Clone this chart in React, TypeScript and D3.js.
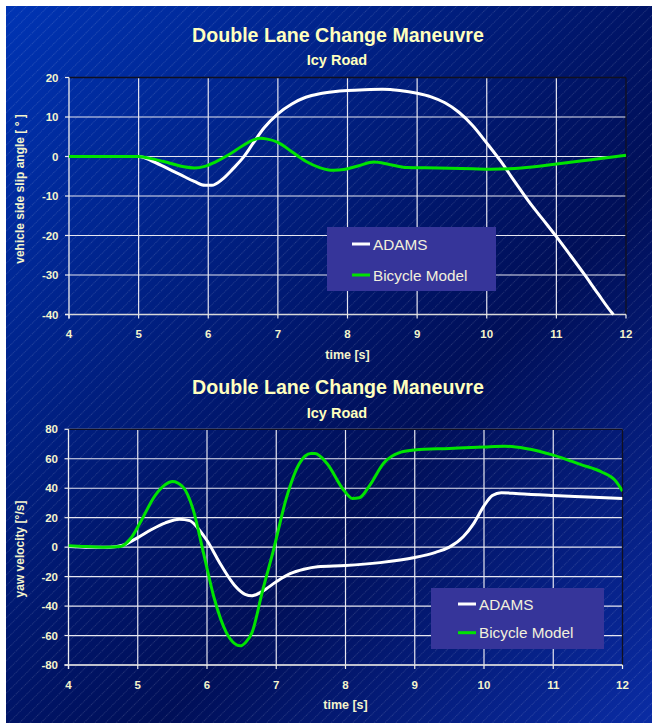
import React from "react";
import * as d3 from "d3";

const W = 652;
const H = 723;

// Shared time axis ticks (s)
const timeTicks = [4, 5, 6, 7, 8, 9, 10, 11, 12];
// Side slip angle ticks (deg)
const slipTicks = [20, 10, 0, -10, -20, -30, -40];
// Yaw velocity ticks (deg/s)
const yawTicks = [80, 60, 40, 20, 0, -20, -40, -60, -80];

const seriesNames = ["ADAMS", "Bicycle Model"];

// Side slip angle, ADAMS multibody model [t, deg]
const slipAdams: [number, number][] = [
  [4.0, 0], [4.5, 0], [5.0, 0], [5.2, -1.2], [5.4, -2.9], [5.6, -4.6],
  [5.8, -6.3], [5.95, -7.3], [6.05, -7.3], [6.2, -5.8], [6.35, -3.2],
  [6.5, -0.3], [6.65, 3.5], [6.8, 7.2], [7.0, 10.8], [7.2, 13.3],
  [7.4, 15.0], [7.6, 15.9], [7.8, 16.4], [8.0, 16.7], [8.25, 16.9],
  [8.5, 17.0], [8.75, 16.7], [9.0, 16.0], [9.2, 15.1], [9.4, 13.6],
  [9.6, 11.2], [9.8, 7.8], [10.0, 3.4], [10.2, -1.2], [10.4, -6.3],
  [10.6, -11.3], [10.8, -15.8], [11.0, -20.3], [11.2, -25.0],
  [11.4, -29.8], [11.6, -34.8], [11.8, -39.6], [11.82, -40],
];

// Side slip angle, bicycle model [t, deg]
const slipBicycle: [number, number][] = [
  [4.0, 0], [4.5, 0], [5.0, 0], [5.2, -0.6], [5.45, -1.7], [5.65, -2.6],
  [5.8, -2.9], [5.95, -2.5], [6.1, -1.4], [6.3, 0.5], [6.5, 2.8],
  [6.65, 4.2], [6.75, 4.6], [6.85, 4.4], [7.0, 3.6], [7.2, 1.2],
  [7.4, -1.2], [7.6, -2.8], [7.8, -3.5], [7.95, -3.3], [8.15, -2.4],
  [8.38, -1.4], [8.6, -2.0], [8.85, -2.8], [9.3, -2.9], [9.8, -3.1],
  [10.05, -3.2], [10.5, -2.9], [11.0, -1.9], [11.5, -0.8], [12.0, 0.3],
];

// Yaw velocity, ADAMS multibody model [t, deg/s]
const yawAdams: [number, number][] = [
  [4.0, 0.5], [4.3, 0], [4.6, 0], [4.8, 1.5], [5.0, 6.5], [5.2, 12],
  [5.4, 16.5], [5.6, 19], [5.75, 18], [5.9, 11], [6.0, 4.5], [6.2, -12],
  [6.4, -26], [6.55, -32], [6.65, -33], [6.8, -30], [7.0, -23.5],
  [7.2, -18], [7.4, -15], [7.6, -13.3], [8.0, -12.5], [8.5, -10.5],
  [9.0, -7], [9.3, -3.5], [9.5, 0], [9.7, 7], [9.85, 16], [10.0, 28],
  [10.12, 35], [10.25, 37], [10.5, 36.2], [11.0, 35], [11.5, 34],
  [12.0, 33],
];

// Yaw velocity, bicycle model [t, deg/s]
const yawBicycle: [number, number][] = [
  [4.0, 1], [4.2, 0.5], [4.5, 0], [4.75, 0.5], [4.9, 6], [5.05, 18],
  [5.25, 35], [5.4, 42.5], [5.5, 44.5], [5.65, 41], [5.8, 25.5],
  [5.95, -4], [6.1, -34], [6.28, -58], [6.4, -65.5], [6.48, -67],
  [6.56, -64.5], [6.65, -58], [6.8, -30], [6.96, -2], [7.15, 34],
  [7.33, 56.5], [7.5, 63.5], [7.56, 63.5], [7.73, 57], [7.97, 39],
  [8.1, 33], [8.2, 33.5], [8.35, 42], [8.55, 57], [8.8, 64.5], [9.0, 66],
  [9.5, 67], [10.0, 68], [10.3, 68.5], [10.6, 67], [11.0, 62.5],
  [11.4, 56], [11.7, 51], [11.9, 45], [12.0, 38],
];

const FONT = "Arial, 'Liberation Sans', sans-serif";
const TITLE_COLOR = "#ffffbe";
const LABEL_COLOR = "#f4f4cc";
const ADAMS_COLOR = "#ffffff";
const BIKE_COLOR = "#00e400";

type PanelProps = {
  id: string;
  left: number;
  right: number;
  top: number;
  bottom: number;
  yDomain: [number, number];
  yTicks: number[];
  titleY: number;
  subY: number;
  yTitle: string;
  yTitleCenter: number;
  adams: [number, number][];
  bicycle: [number, number][];
  legend: { x: number; y: number; w: number; h: number; lx: number; row1: number; row2: number };
};

function Panel(p: PanelProps) {
  const x = d3.scaleLinear().domain([4, 12]).range([p.left, p.right]);
  const y = d3.scaleLinear().domain(p.yDomain).range([p.bottom, p.top]);
  const line = d3
    .line<[number, number]>()
    .x((d) => x(d[0]))
    .y((d) => y(d[1]))
    .curve(d3.curveMonotoneX);
  const clipId = `clip-${p.id}`;
  const L = p.legend;

  return (
    <g>
      <defs>
        <clipPath id={clipId}>
          <rect x={p.left} y={p.top - 2} width={p.right - p.left} height={p.bottom - p.top + 4} />
        </clipPath>
      </defs>

      {/* titles */}
      <text x={338} y={p.titleY} textAnchor="middle" fontFamily={FONT} fontWeight="bold" fontSize={19.6} fill={TITLE_COLOR}>
        Double Lane Change Maneuvre
      </text>
      <text x={337} y={p.subY} textAnchor="middle" fontFamily={FONT} fontWeight="bold" fontSize={14.5} fill={TITLE_COLOR}>
        Icy Road
      </text>

      {/* grid */}
      {p.yTicks.map((t) => (
        <line key={`h${t}`} x1={p.left} x2={p.right} y1={y(t)} y2={y(t)} stroke="#e6e6f0" strokeWidth={1.2} />
      ))}
      {timeTicks.slice(1, -1).map((t) => (
        <line key={`v${t}`} x1={x(t)} x2={x(t)} y1={p.top} y2={p.bottom} stroke="#e6e6f0" strokeWidth={1.2} />
      ))}

      {/* frame: dark top/right, light left/bottom axes */}
      <line x1={p.left} x2={p.right} y1={p.top} y2={p.top} stroke="#101020" strokeWidth={1.3} />
      <line x1={p.right} x2={p.right} y1={p.top} y2={p.bottom} stroke="#101020" strokeWidth={1.3} />
      <line x1={p.left} x2={p.left} y1={p.top} y2={p.bottom + 4} stroke="#eeeeee" strokeWidth={1.3} />
      <line x1={p.left - 4} x2={p.right} y1={p.bottom} y2={p.bottom} stroke="#d8d8d8" strokeWidth={1.3} />

      {/* ticks */}
      {p.yTicks.map((t) => (
        <g key={`yt${t}`}>
          <line x1={p.left - 4} x2={p.left} y1={y(t)} y2={y(t)} stroke="#eeeeee" strokeWidth={1.2} />
          <text x={p.left - 10.5} y={y(t)} dy="0.36em" textAnchor="end" fontFamily={FONT} fontWeight="bold" fontSize={11.5} fill={LABEL_COLOR}>
            {t}
          </text>
        </g>
      ))}
      {timeTicks.map((t) => (
        <g key={`xt${t}`}>
          <line x1={x(t)} x2={x(t)} y1={p.bottom} y2={p.bottom + 4} stroke="#eeeeee" strokeWidth={1.2} />
          <text x={x(t)} y={p.bottom + 23.5} textAnchor="middle" fontFamily={FONT} fontWeight="bold" fontSize={11.5} fill={LABEL_COLOR}>
            {t}
          </text>
        </g>
      ))}

      {/* axis titles */}
      <text x={(p.left + p.right) / 2} y={p.bottom + 44} textAnchor="middle" fontFamily={FONT} fontWeight="bold" fontSize={12.5} fill={LABEL_COLOR}>
        time [s]
      </text>
      <text
        transform={`translate(20,${p.yTitleCenter}) rotate(-90)`}
        textAnchor="middle"
        dy="0.35em"
        fontFamily={FONT}
        fontWeight="bold"
        fontSize={12}
        fill={LABEL_COLOR}
      >
        {p.yTitle}
      </text>

      {/* series */}
      <g clipPath={`url(#${clipId})`}>
        <path d={line(p.adams) ?? ""} fill="none" stroke={ADAMS_COLOR} strokeWidth={3} strokeLinejoin="round" />
        <path d={line(p.bicycle) ?? ""} fill="none" stroke={BIKE_COLOR} strokeWidth={3} strokeLinejoin="round" />
      </g>

      {/* legend */}
      <rect x={L.x} y={L.y} width={L.w} height={L.h} fill="#36359a" />
      {[ADAMS_COLOR, BIKE_COLOR].map((c, i) => {
        const ry = L.y + (i === 0 ? L.row1 : L.row2);
        return (
          <g key={seriesNames[i]}>
            <line x1={L.x + L.lx} x2={L.x + L.lx + 18} y1={ry} y2={ry} stroke={c} strokeWidth={3} />
            <text x={L.x + L.lx + 21} y={ry} dy="0.36em" fontFamily={FONT} fontSize={15.3} fill="#f2f0dc">
              {seriesNames[i]}
            </text>
          </g>
        );
      })}
    </g>
  );
}

export default function App() {
  return (
    <svg
      width={W}
      height={H}
      viewBox={`0 0 ${W} ${H}`}
      style={{ position: "absolute", left: 0, top: 0, display: "block", background: "#ffffff" }}
    >
      <defs>
        <linearGradient id="bg" x1="0" y1="0" x2="1" y2="1">
          <stop offset="0" stopColor="#0034b4" />
          <stop offset="0.5" stopColor="#001466" />
          <stop offset="0.62" stopColor="#000f58" />
          <stop offset="1" stopColor="#0a2ca4" />
        </linearGradient>
        <pattern id="hatch" patternUnits="userSpaceOnUse" width={7.6} height={7.6} patternTransform="rotate(45)">
          <line x1={0.5} y1={0} x2={0.5} y2={7.6} stroke="#ffffff" strokeOpacity={0.24} strokeWidth={0.6} strokeDasharray="1 1" />
        </pattern>
      </defs>
      <rect x={6} y={6} width={W - 6} height={H - 6} fill="url(#bg)" />
      <rect x={6} y={6} width={W - 6} height={H - 6} fill="url(#hatch)" />

      <Panel
        id="slip"
        left={69}
        right={626}
        top={77.5}
        bottom={314.5}
        yDomain={[-40, 20]}
        yTicks={slipTicks}
        titleY={41.5}
        subY={65}
        yTitle="vehicle side slip angle [ ° ]"
        yTitleCenter={189}
        adams={slipAdams}
        bicycle={slipBicycle}
        legend={{ x: 327, y: 227, w: 169, h: 64, lx: 25, row1: 17, row2: 48 }}
      />
      <Panel
        id="yaw"
        left={68.5}
        right={622.5}
        top={429.3}
        bottom={665}
        yDomain={[-80, 80]}
        yTicks={yawTicks}
        titleY={394}
        subY={418}
        yTitle="yaw velocity [°/s]"
        yTitleCenter={549}
        adams={yawAdams}
        bicycle={yawBicycle}
        legend={{ x: 431, y: 588, w: 173, h: 61, lx: 27, row1: 16, row2: 44.7 }}
      />
    </svg>
  );
}
